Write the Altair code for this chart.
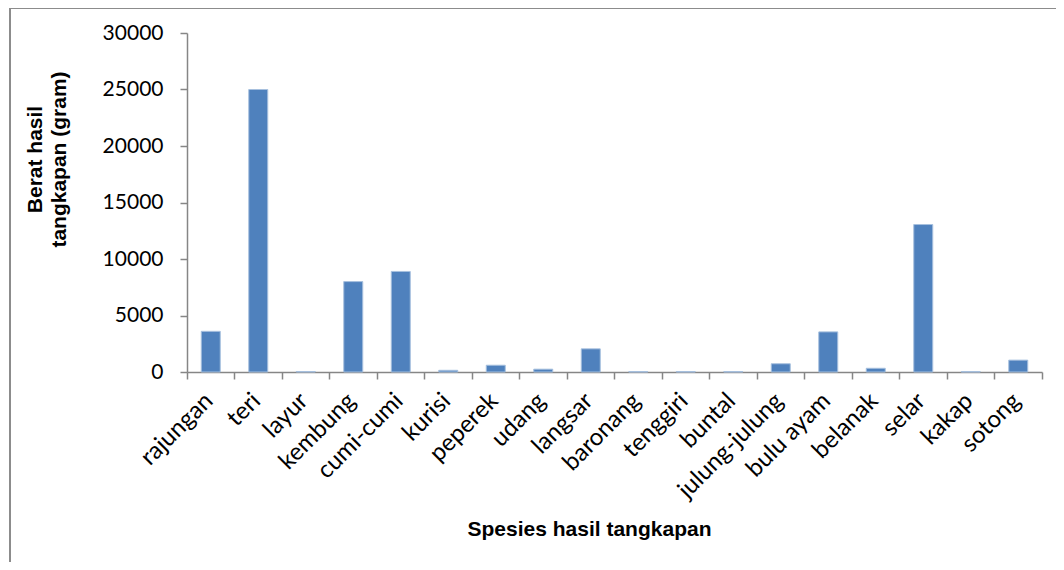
import altair as alt
import pandas as pd

species = ["rajungan", "teri", "layur", "kembung", "cumi-cumi", "kurisi", "peperek",
           "udang", "langsar", "baronang", "tenggiri", "buntal", "julung-julung",
           "bulu ayam", "belanak", "selar", "kakap", "sotong"]
weights = [3600, 25000, 40, 8000, 8900, 150, 600, 250, 2050, 30, 30, 30, 730,
           3550, 330, 13050, 30, 1050]

df = pd.DataFrame({"species": species, "weight": weights})

W, H = 855, 339
FONT = "Lato"
TITLE_FONT = "Liberation Sans"

xscale = alt.Scale(domain=species, paddingInner=0, paddingOuter=0)

bars = alt.Chart(df).mark_bar(
    color="#4F81BD", stroke="#A7C0DE", strokeWidth=1,
    width=alt.RelativeBandSize(0.4)
).encode(
    x=alt.X("species:N", scale=xscale, sort=species,
            axis=alt.Axis(
                title="Spesies hasil tangkapan",
                labels=False, bandPosition=1, tickExtra=True,
                tickSize=7, tickColor="#868686", domainColor="#868686",
                tickWidth=1.5, domainWidth=1.5,
                titleFont=TITLE_FONT, titleFontSize=21, titleFontWeight="bold",
                titleColor="#000000", titleX=402, titleY=157,
                titleAnchor="start", titleAlign="center", titleBaseline="middle")),
    y=alt.Y("weight:Q", scale=alt.Scale(domain=[0, 30000]),
            axis=alt.Axis(
                title=["Berat hasil", "tangkapan (gram)"],
                values=[0, 5000, 10000, 15000, 20000, 25000, 30000],
                format="d", grid=False, tickSize=7, tickColor="#868686",
                domainColor="#868686", tickWidth=1.5, domainWidth=1.5,
                labelFont=FONT, labelFontSize=21, labelColor="#000000", labelPadding=17,
                titleFont=TITLE_FONT, titleFontSize=21, titleFontWeight="bold",
                titleColor="#000000", titleAngle=270, titleAlign="center",
                titleBaseline="middle", titleX=-152, titleY=126, titleLineHeight=24)),
)

labels = alt.Chart(df).mark_text(
    angle=315, align="right", baseline="middle", font=FONT, fontSize=24,
    color="#000000", dx=-2, dy=0
).encode(
    x=alt.X("species:N", scale=xscale, sort=species),
    y=alt.value(H + 24),
    text="species:N",
)

frame_top = alt.Chart(df).mark_rule(color="#8C8C8C", strokeWidth=2).encode(
    x=alt.value(-177), x2=alt.value(1060 - 187), y=alt.value(-25))
frame_left = alt.Chart(df).mark_rule(color="#8C8C8C", strokeWidth=2).encode(
    x=alt.value(-177), y=alt.value(-25), y2=alt.value(570 - 33))

chart = alt.layer(frame_top, frame_left, bars, labels).properties(
    width=W, height=H,
    autosize=alt.AutoSizeParams(type="none"),
    padding={"left": 179, "top": 25, "right": 14, "bottom": 190},
).configure_view(stroke=None)

chart.save("out.html", embed_options={"renderer": "svg", "actions": False})
